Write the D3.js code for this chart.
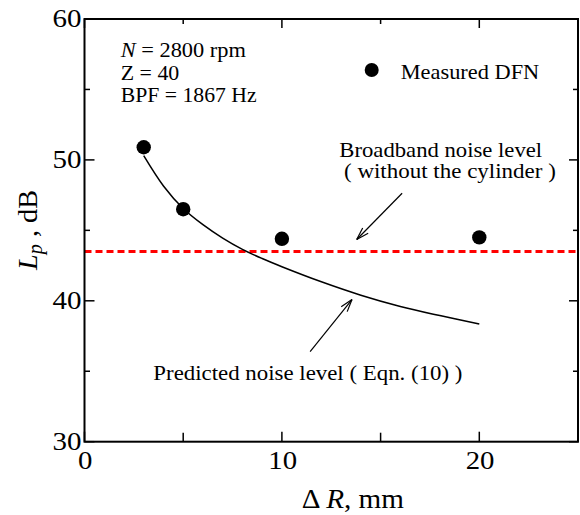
<!DOCTYPE html>
<html><head><meta charset="utf-8">
<script src="https://cdn.jsdelivr.net/npm/d3@7"></script>
<style>body{margin:0;background:#fff}svg{display:block}</style>
</head><body>
<svg id="c" width="580" height="515"></svg>
<script>
// ---- data ----
const measuredX = [3, 5, 10, 20];
const measuredLp = [50.9, 46.5, 44.4, 44.5];
const predictedX = [3, 4, 5, 6, 7, 8, 9, 10, 12, 14, 16, 18, 20];
const predictedLp = [50.3, 48.15, 46.55, 45.4, 44.45, 43.65, 43.0, 42.42, 41.35, 40.4, 39.6, 38.95, 38.35];
const broadbandLevel = 43.5;
const xMajorTicks = [0, 10, 20];
const xMinorTicks = [5, 15];
const yMajorTicks = [30, 40, 50, 60];
const yMinorTicks = [35, 45, 55];
const xDomain = [0, 25];
const yDomain = [30, 60];

const FONT = "'Liberation Serif', 'Times New Roman', Times, serif";
const svg = d3.select("#c");
const L = 84.5, R = 578, T = 19, B = 441.7;
const x = d3.scaleLinear().domain(xDomain).range([L, R]);
const y = d3.scaleLinear().domain(yDomain).range([B, T]);

function label(parts, px, py, size, width, anchor, rot) {
  const g = svg.append("g").attr("transform", `translate(${px},${py})` + (rot ? ` rotate(${rot})` : ""));
  const t = g.append("text").attr("font-size", size).attr("font-family", FONT)
    .attr("fill", "#000").attr("text-anchor", anchor || "start");
  parts.forEach(p => {
    const s = t.append("tspan").text(p[0]);
    if (p[1] && p[1].italic) s.attr("font-style", "italic");
    if (p[1] && p[1].size) s.attr("font-size", p[1].size);
    if (p[1] && p[1].dy) s.attr("dy", p[1].dy);
  });
  if (width) {
    const w = t.node().getComputedTextLength();
    t.attr("transform", `scale(${width / w},1)`);
  }
  return t;
}

// broadband dashed line
svg.append("line")
  .attr("x1", x(xDomain[0])).attr("x2", x(xDomain[1]))
  .attr("y1", y(broadbandLevel)).attr("y2", y(broadbandLevel))
  .attr("stroke", "#ff0000").attr("stroke-width", 3).attr("stroke-dasharray", "7,4");

// predicted curve
const pts = predictedX.map((d, i) => [d, predictedLp[i]]);
svg.append("path").datum(pts)
  .attr("d", d3.line().x(d => x(d[0])).y(d => y(d[1])).curve(d3.curveCatmullRom))
  .attr("fill", "none").attr("stroke", "#000").attr("stroke-width", 1.5);

// measured points
svg.selectAll("circle.m").data(measuredX.map((d, i) => [d, measuredLp[i]])).enter()
  .append("circle").attr("class", "m")
  .attr("cx", d => x(d[0])).attr("cy", d => y(d[1])).attr("r", 7.2).attr("fill", "#000");

// frame
svg.append("rect").attr("x", L).attr("y", T).attr("width", R - L).attr("height", B - T)
  .attr("fill", "none").attr("stroke", "black").attr("stroke-width", 2);

// ticks (inward)
const tk = svg.append("g").attr("stroke", "black").attr("stroke-width", 1.5);
xMajorTicks.forEach(v => {
  tk.append("line").attr("x1", x(v)).attr("x2", x(v)).attr("y1", B).attr("y2", B - 10);
  tk.append("line").attr("x1", x(v)).attr("x2", x(v)).attr("y1", T).attr("y2", T + 9);
});
xMinorTicks.forEach(v => {
  tk.append("line").attr("x1", x(v)).attr("x2", x(v)).attr("y1", B).attr("y2", B - 9);
  tk.append("line").attr("x1", x(v)).attr("x2", x(v)).attr("y1", T).attr("y2", T + 5);
});
yMajorTicks.forEach(v => {
  tk.append("line").attr("y1", y(v)).attr("y2", y(v)).attr("x1", L).attr("x2", L + 10);
  tk.append("line").attr("y1", y(v)).attr("y2", y(v)).attr("x1", R).attr("x2", R - 9);
});
yMinorTicks.forEach(v => {
  tk.append("line").attr("y1", y(v)).attr("y2", y(v)).attr("x1", L).attr("x2", L + 5.5);
  tk.append("line").attr("y1", y(v)).attr("y2", y(v)).attr("x1", R).attr("x2", R - 5);
});

// tick labels
xMajorTicks.forEach(v => label([[String(v)]], x(v) + 0.8, 468.5, 26, String(v).length * 14.4, "middle"));
yMajorTicks.forEach(v => label([[String(v)]], 81.5, y(v) + 8, 26, 29, "end"));

// axis titles
label([["\u0394 "], ["R", {italic: true}], [", mm"]], 301.7, 508.3, 27, 102.3, "start");
label([["L", {italic: true}], ["p", {italic: true, size: 20, dy: 5}], [" , dB", {dy: -5}]], 37, 230, 28, 80, "middle", -90);

// info text
label([["N", {italic: true}], [" = 2800 rpm"]], 120.7, 56.7, 20, 125.3, "start");
label([["Z = 40"]], 120.7, 80, 20, 58.6, "start");
label([["BPF = 1867 Hz"]], 120.7, 101.7, 20, 136, "start");

// legend
svg.append("circle").attr("cx", 371.7).attr("cy", 70).attr("r", 7).attr("fill", "#000");
label([["Measured DFN"]], 400.7, 79, 20, 138.6, "start");

// annotations
label([["Broadband noise level"]], 339.3, 157.3, 20, 203, "start");
label([["( without the cylinder )"]], 344, 178.3, 20, 212, "start");
label([["Predicted noise level ( Eqn. (10) )"]], 153.3, 380, 20, 309.4, "start");

function arrow(x1, y1, x2, y2) {
  const a = svg.append("g").attr("stroke", "black").attr("stroke-width", 1.2).attr("fill", "none");
  const X1 = x(x1), Y1 = y(y1), X2 = x(x2), Y2 = y(y2);
  a.append("line").attr("x1", X1).attr("y1", Y1).attr("x2", X2).attr("y2", Y2);
  const ang = Math.atan2(Y1 - Y2, X1 - X2), len = 13, h = 0.3;
  [ang + h, ang - h].forEach(t => a.append("line").attr("x1", X2).attr("y1", Y2)
    .attr("x2", X2 + len * Math.cos(t)).attr("y2", Y2 + len * Math.sin(t)));
}
arrow(16.09, 47.63, 13.79, 44.35);
arrow(11.43, 36.39, 13.55, 40.09);
</script>
</body></html>
